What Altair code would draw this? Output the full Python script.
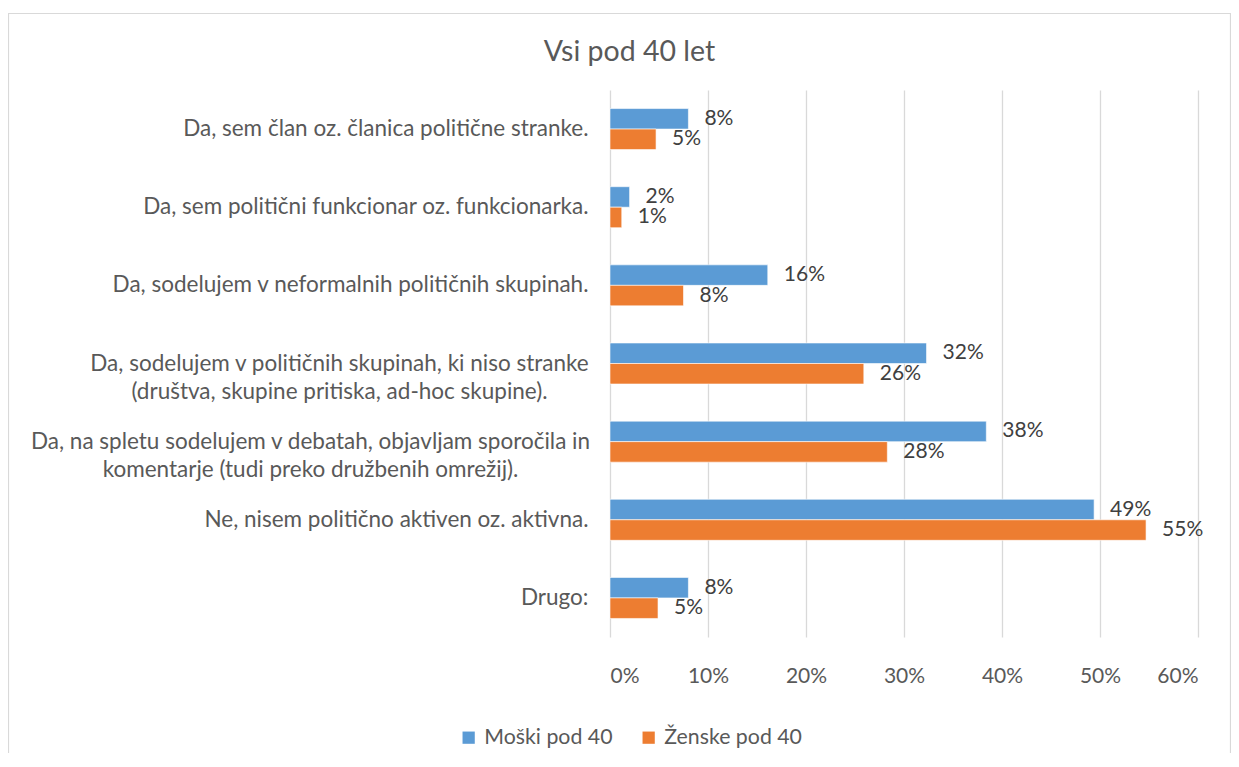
import altair as alt
import pandas as pd

categories = [
    "Da, sem član oz. članica politične stranke.",
    "Da, sem politični funkcionar oz. funkcionarka.",
    "Da, sodelujem v neformalnih političnih skupinah.",
    "Da, sodelujem v političnih skupinah, ki niso stranke|(društva, skupine pritiska, ad-hoc skupine).",
    "Da, na spletu sodelujem v debatah, objavljam sporočila in|komentarje (tudi preko družbenih omrežij).",
    "Ne, nisem politično aktiven oz. aktivna.",
    "Drugo:",
]
series = ["Moški pod 40", "Ženske pod 40"]
moski = [0.080, 0.020, 0.161, 0.323, 0.384, 0.494, 0.080]
zenske = [0.047, 0.012, 0.075, 0.259, 0.283, 0.547, 0.049]
colors = ["#5B9BD5", "#ED7D31"]
x_ticks = [0, 0.1, 0.2, 0.3, 0.4, 0.5, 0.6]

rows = []
for c, m, z in zip(categories, moski, zenske):
    rows.append({"cat": c, "series": series[0], "val": m})
    rows.append({"cat": c, "series": series[1], "val": z})
df = pd.DataFrame(rows)

FONT = "Lato"

# wrapped labels: lines centred on each other, block right-aligned to the axis
label_align = {
    "condition": {"test": "indexof(datum.value, '|') >= 0", "value": "center"},
    "value": "right",
}
label_padding = {
    "condition": [
        {"test": "datum.value === '%s'" % categories[3], "value": 271},
        {"test": "datum.value === '%s'" % categories[4], "value": 300},
    ],
    "value": 22,
}

y_enc = alt.Y(
    "cat:N",
    sort=categories,
    title=None,
    scale=alt.Scale(paddingInner=0.475, paddingOuter=0.2375),
    axis=alt.Axis(
        domain=False,
        ticks=False,
        labelPadding=label_padding,
        labelAlign=label_align,
        labelFontSize=22.5,
        labelFont=FONT,
        labelColor="#595959",
        labelLimit=0,
        labelLineHeight=28,
        labelExpr="split(datum.label, '|')",
    ),
)
x_enc = alt.X(
    "val:Q",
    title=None,
    scale=alt.Scale(domain=[0, 0.6], nice=False, zero=True),
    axis=alt.Axis(
        values=x_ticks,
        format=".0%",
        domain=False,
        ticks=False,
        grid=True,
        gridColor="#d9d9d9",
        gridWidth=1.3,
        labelPadding=28,
        labelFontSize=21,
        labelFont=FONT,
        labelColor="#595959",
    ),
)
yoff = alt.YOffset("series:N", sort=series)

border = alt.Chart(pd.DataFrame({"a": [0]})).mark_rect(
    fill="transparent", stroke="#d9d9d9", strokeWidth=1.2
).encode(
    x=alt.value(-601.5), x2=alt.value(620.5),
    y=alt.value(-76.5), y2=alt.value(800),
)

bars = alt.Chart(df).mark_bar(stroke="white", strokeWidth=0.6).encode(
    y=y_enc,
    x=x_enc,
    yOffset=yoff,
    color=alt.Color(
        "series:N",
        sort=series,
        scale=alt.Scale(domain=series, range=colors),
        legend=alt.Legend(
            title=None,
            orient="none",
            legendX=-152,
            legendY=637,
            direction="horizontal",
            symbolType="square",
            symbolSize=150,
            symbolStrokeWidth=0,
            labelFontSize=21.3,
            labelFont=FONT,
            labelColor="#595959",
            labelOffset=5,
            columnPadding=25,
        ),
    ),
)

labels = alt.Chart(df).mark_text(
    align="left", baseline="middle", dx=16, fontSize=21, font=FONT, color="#404040"
).encode(
    y=alt.Y("cat:N", sort=categories),
    x="val:Q",
    yOffset=yoff,
    text=alt.Text("val:Q", format=".0%"),
)

chart = alt.layer(border, bars, labels).properties(
    width=588,
    height=547,
    title=alt.TitleParams(
        "Vsi pod 40 let",
        fontSize=28.5,
        font=FONT,
        fontWeight="normal",
        color="#595959",
        anchor="middle",
        frame="group",
        baseline="alphabetic",
        dx=-274.5,
        dy=77,
        offset=0,
    ),
    autosize=alt.AutoSizeParams(type="none"),
    padding={"left": 602, "top": 82, "right": 33, "bottom": 116},
).configure_view(stroke=None)

chart.save("out.html", embed_options={"renderer": "svg", "actions": False})
